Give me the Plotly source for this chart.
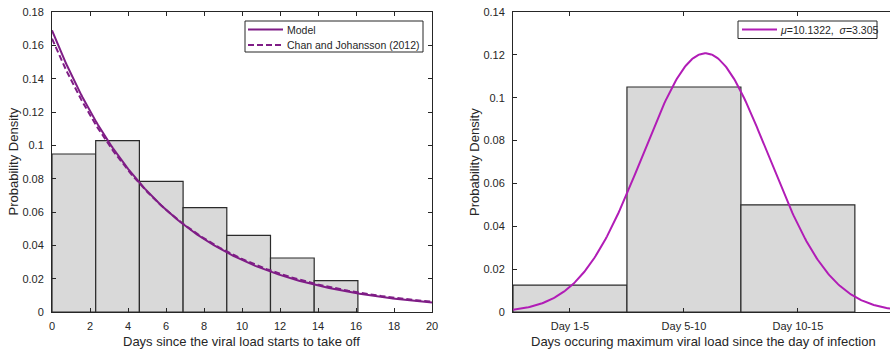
import numpy as np
import plotly.graph_objects as go

# ---------------- data ----------------
# Left panel: histogram of days since viral load starts to take off
left_bin_edges = [0.0, 2.3, 4.6, 6.9, 9.2, 11.5, 13.8, 16.1]
left_heights = [0.0948, 0.1028, 0.0784, 0.0626, 0.0460, 0.0324, 0.0188]
model_rate = 0.169          # exponential model fit
chan_rate = 0.164           # Chan and Johansson (2012)
left_legend_labels = ["Model", "Chan and Johansson (2012)"]
left_xtitle = "Days since the viral load starts to take off"

# Right panel: days of maximum viral load
right_categories = ["Day 1-5", "Day 5-10", "Day 10-15"]
right_centers = [3, 9, 15]
right_width = 6
right_heights = [0.0125, 0.105, 0.050]
mu = 10.1322
sigma = 3.305
right_legend_label = "<i>μ</i>=10.1322,  <i>σ</i>=3.305"
right_xtitle = "Days occuring maximum viral load since the day of infection"
ytitle = "Probability Density"

left_xticks = list(range(0, 21, 2))
left_yticks = [0, 0.02, 0.04, 0.06, 0.08, 0.1, 0.12, 0.14, 0.16, 0.18]
right_yticks = [0, 0.02, 0.04, 0.06, 0.08, 0.1, 0.12, 0.14]

# ---------------- styles ----------------
FONT = "Liberation Sans, Arial, Helvetica, sans-serif"
AX = "#262626"
BAR_FILL = "#d9d9d9"
BAR_EDGE = "#2b2b2b"
PURPLE = "#7f1d86"
MAGENTA = "#b11cb6"
W, H = 890, 352
TOP, BOT = 12, 312           # plot area top/bottom in window pixels


def px(x):
    return x / W


def py(y):
    return (BOT - y) / (BOT - TOP)


fig = go.Figure()

# left histogram
lc = [(a + b) / 2 for a, b in zip(left_bin_edges[:-1], left_bin_edges[1:])]
lw = [b - a for a, b in zip(left_bin_edges[:-1], left_bin_edges[1:])]
fig.add_trace(go.Bar(x=lc, y=left_heights, width=lw,
                     marker=dict(color=BAR_FILL, line=dict(color=BAR_EDGE, width=1.2)),
                     showlegend=False, xaxis="x", yaxis="y", hoverinfo="skip"))

xs = np.linspace(0, 20, 300)
fig.add_trace(go.Scatter(x=xs, y=model_rate * np.exp(-model_rate * xs), mode="lines",
                         name=left_legend_labels[0], line=dict(color=PURPLE, width=2),
                         xaxis="x", yaxis="y", showlegend=False))
fig.add_trace(go.Scatter(x=xs, y=chan_rate * np.exp(-chan_rate * xs), mode="lines",
                         name=left_legend_labels[1],
                         line=dict(color=PURPLE, width=2, dash="6px,3px"),
                         xaxis="x", yaxis="y", showlegend=False))

# right histogram
fig.add_trace(go.Bar(x=right_centers, y=right_heights, width=right_width,
                     marker=dict(color=BAR_FILL, line=dict(color=BAR_EDGE, width=1.2)),
                     showlegend=False, xaxis="x2", yaxis="y2", hoverinfo="skip"))
xr = np.linspace(0, 20, 300)
pdf = np.exp(-0.5 * ((xr - mu) / sigma) ** 2) / (sigma * np.sqrt(2 * np.pi))
fig.add_trace(go.Scatter(x=xr, y=pdf, mode="lines", name=right_legend_label,
                         line=dict(color=MAGENTA, width=2),
                         xaxis="x2", yaxis="y2", showlegend=False))

tickfont = dict(family=FONT, size=11, color=AX)
titlefont = dict(family=FONT, size=13, color=AX)

common_axis = dict(showgrid=False, zeroline=False, showline=True, linecolor=AX,
                   linewidth=1, ticks="inside", ticklen=4, tickcolor=AX,
                   tickfont=tickfont, automargin=False, ticklabeloverflow="allow")

fig.update_layout(
    width=W, height=H,
    margin=dict(l=0, r=0, t=TOP, b=H - BOT),
    paper_bgcolor="white", plot_bgcolor="white",
    font=dict(family=FONT, size=11, color=AX),
    barmode="overlay",
    showlegend=False,
    xaxis=dict(domain=[px(52), px(432)], range=[0, 20], tickvals=left_xticks,
               mirror="ticks", anchor="y", ticklabelstandoff=4, **common_axis),
    yaxis=dict(domain=[0, 1], range=[0, 0.18], tickvals=left_yticks,
               mirror="ticks", anchor="x", ticklabelstandoff=5, **common_axis),
    xaxis2=dict(domain=[px(513), 1.0], range=[0, 19.85], tickvals=right_centers,
                ticktext=right_categories, mirror="ticks", anchor="y2",
                ticklabelstandoff=4, **common_axis),
    yaxis2=dict(domain=[0, 1], range=[0, 0.14], tickvals=right_yticks,
                mirror=False, anchor="x2", ticklabelstandoff=5, **common_axis),
    yaxis3=dict(overlaying="y2", side="right", anchor="x2", range=[0, 0.14],
                tickvals=right_yticks, showticklabels=False, showline=False,
                showgrid=False, zeroline=False, ticks="inside", ticklen=4,
                tickcolor=AX, automargin=False),
)

shapes = []
annotations = []

# ---- axis titles ----
annotations.append(dict(text=left_xtitle, xref="paper", yref="paper",
                        x=px(242), y=py(341), xanchor="center", yanchor="middle",
                        showarrow=False, font=titlefont))
annotations.append(dict(text=right_xtitle, xref="paper", yref="paper",
                        x=px(703), y=py(341), xanchor="center", yanchor="middle",
                        showarrow=False, font=titlefont))
for xc in (12.5, 474):
    annotations.append(dict(text=ytitle, xref="paper", yref="paper",
                            x=px(xc), y=0.5, xanchor="center", yanchor="middle",
                            textangle=-90, showarrow=False, font=titlefont))

# ---- manual legends (boxes, line samples, text) ----
legfont = dict(family=FONT, size=10.5, color=AX)
shapes.append(dict(type="rect", xref="paper", yref="paper",
                   x0=px(245), x1=px(423), y0=py(52), y1=py(21),
                   line=dict(color=AX, width=1), fillcolor="white", layer="above"))
for i, (lbl, dash) in enumerate(zip(left_legend_labels, ["solid", "6px,3px"])):
    yy = 29.5 + i * 15.5
    shapes.append(dict(type="line", xref="paper", yref="paper",
                       x0=px(248), x1=px(283), y0=py(yy), y1=py(yy),
                       line=dict(color=PURPLE, width=2, dash=dash), layer="above"))
    annotations.append(dict(text=lbl, xref="paper", yref="paper", x=px(285), y=py(yy),
                            xanchor="left", yanchor="middle", showarrow=False,
                            font=legfont))
shapes.append(dict(type="rect", xref="paper", yref="paper",
                   x0=px(738), x1=px(877), y0=py(38.5), y1=py(21),
                   line=dict(color=AX, width=1), fillcolor="white", layer="above"))
shapes.append(dict(type="line", xref="paper", yref="paper",
                   x0=px(742), x1=px(777), y0=py(29.5), y1=py(29.5),
                   line=dict(color=MAGENTA, width=2), layer="above"))
annotations.append(dict(text=right_legend_label, xref="paper", yref="paper",
                        x=px(778), y=py(29.5), xanchor="left", yanchor="middle",
                        showarrow=False, font=legfont))

fig.update_layout(shapes=shapes, annotations=annotations)

fig.write_html(
    "out.html",
    config={"displayModeBar": False},
    post_script="document.body.style.margin='0px';document.body.style.overflow='hidden';",
)
